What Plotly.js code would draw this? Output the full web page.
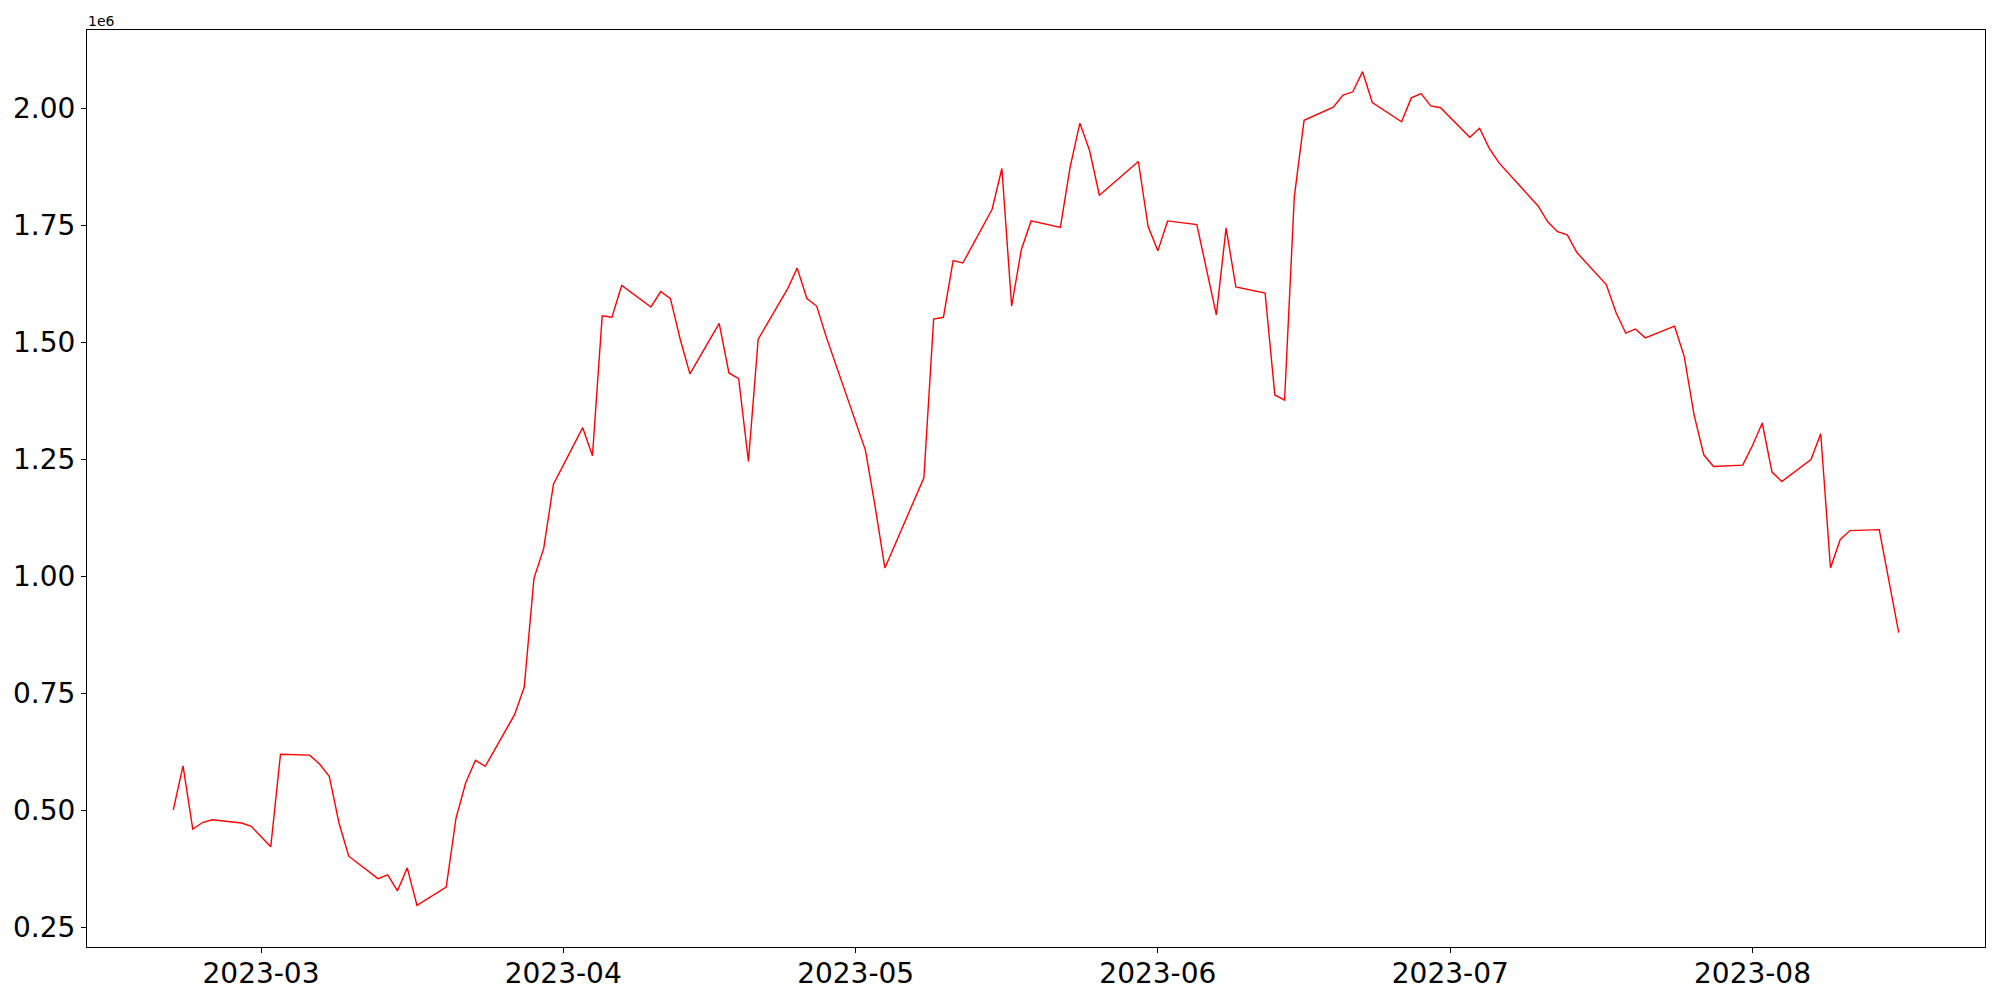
<!DOCTYPE html>
<html>
<head>
<meta charset="utf-8">
<script src="https://cdn.plot.ly/plotly-3.0.1.min.js"></script>
<style>
html, body { margin: 0; padding: 0; background: #ffffff; }
#chart { width: 2000px; height: 1000px; }
</style>
</head>
<body>
<div id="chart"></div>
<script>
const dates = [
  '2023-02-20','2023-02-21','2023-02-22','2023-02-23','2023-02-24',
  '2023-02-27','2023-02-28','2023-03-02','2023-03-03',
  '2023-03-06','2023-03-07','2023-03-08','2023-03-09','2023-03-10',
  '2023-03-13','2023-03-14','2023-03-15','2023-03-16','2023-03-17',
  '2023-03-20','2023-03-21','2023-03-22','2023-03-23','2023-03-24',
  '2023-03-27','2023-03-28','2023-03-29','2023-03-30','2023-03-31',
  '2023-04-03','2023-04-04','2023-04-05','2023-04-06','2023-04-07',
  '2023-04-10','2023-04-11','2023-04-12','2023-04-13','2023-04-14',
  '2023-04-17','2023-04-18','2023-04-19','2023-04-20','2023-04-21',
  '2023-04-24','2023-04-25','2023-04-26','2023-04-27','2023-04-28',
  '2023-05-02','2023-05-03','2023-05-04',
  '2023-05-08','2023-05-09','2023-05-10','2023-05-11','2023-05-12',
  '2023-05-15','2023-05-16','2023-05-17','2023-05-18','2023-05-19',
  '2023-05-22','2023-05-23','2023-05-24','2023-05-25','2023-05-26',
  '2023-05-30','2023-05-31','2023-06-01','2023-06-02',
  '2023-06-05','2023-06-07','2023-06-08','2023-06-09',
  '2023-06-12','2023-06-13','2023-06-14','2023-06-15','2023-06-16',
  '2023-06-19','2023-06-20','2023-06-21','2023-06-22','2023-06-23',
  '2023-06-26','2023-06-27','2023-06-28','2023-06-29','2023-06-30',
  '2023-07-03','2023-07-04','2023-07-05','2023-07-06',
  '2023-07-10','2023-07-11','2023-07-12','2023-07-13','2023-07-14',
  '2023-07-17','2023-07-18','2023-07-19','2023-07-20','2023-07-21',
  '2023-07-24','2023-07-25','2023-07-26','2023-07-27','2023-07-28',
  '2023-07-31','2023-08-01','2023-08-02','2023-08-03','2023-08-04',
  '2023-08-07','2023-08-08','2023-08-09','2023-08-10','2023-08-11',
  '2023-08-14','2023-08-16'
];

const values = [
  501000, 595000, 460000, 474000, 480000,
  473000, 466000, 422000, 620000,
  618000, 599000, 573000, 473000, 402000,
  354000, 362000, 328000, 377000, 297000,
  336000, 483000, 559000, 607000, 594000,
  704000, 763000, 996000, 1060000, 1197000,
  1318000, 1258000, 1557000, 1554000, 1622000,
  1576000, 1609000, 1594000, 1507000, 1433000,
  1541000, 1435000, 1423000, 1246000, 1507000,
  1614000, 1659000, 1594000, 1578000, 1511000,
  1270000, 1149000, 1018000,
  1211000, 1550000, 1554000, 1675000, 1670000,
  1785000, 1872000, 1578000, 1699000, 1760000,
  1746000, 1875000, 1969000, 1910000, 1815000,
  1887000, 1748000, 1696000, 1760000,
  1752000, 1559000, 1745000, 1619000,
  1606000, 1388000, 1377000, 1812000, 1975000,
  2003000, 2029000, 2036000, 2079000, 2013000,
  1972000, 2023000, 2032000, 2006000, 2002000,
  1939000, 1958000, 1915000, 1884000,
  1792000, 1758000, 1737000, 1730000, 1692000,
  1624000, 1564000, 1520000, 1529000, 1510000,
  1535000, 1470000, 1346000, 1260000, 1235000,
  1238000, 1280000, 1328000, 1223000, 1203000,
  1250000, 1305000, 1018000, 1079000, 1098000,
  1100000, 880000
];

const xTickVals = ['2023-03-01','2023-04-01','2023-05-01','2023-06-01','2023-07-01','2023-08-01'];
const xTickText = ['2023-03','2023-04','2023-05','2023-06','2023-07','2023-08'];
const yTickVals = [250000, 500000, 750000, 1000000, 1250000, 1500000, 1750000, 2000000];
const yTickText = ['0.25','0.50','0.75','1.00','1.25','1.50','1.75','2.00'];
const offsetText = '1e6';

// matplotlib-like 5% margins computed from the data
const tms = dates.map(d => new Date(d + 'T00:00:00Z').getTime());
const tMin = Math.min(...tms), tMax = Math.max(...tms);
const tPad = (tMax - tMin) * 0.05;
const fmt = t => new Date(t).toISOString().replace('T', ' ').slice(0, 19);
const vMin = Math.min(...values), vMax = Math.max(...values);
const vPad = (vMax - vMin) * 0.05;

const font = '"DejaVu Sans", "Liberation Sans", sans-serif';

const trace = {
  x: dates,
  y: values,
  type: 'scatter',
  mode: 'lines',
  line: { color: '#ff0000', width: 1.4 },
  hoverinfo: 'x+y'
};

const axisCommon = {
  showgrid: false,
  zeroline: false,
  showline: true,
  mirror: true,
  linecolor: '#000000',
  linewidth: 1,
  ticks: 'outside',
  ticklen: 5,
  tickwidth: 1,
  tickcolor: '#000000',
  tickfont: { family: font, size: 28, color: '#000000' }
};

const layout = {
  width: 2000,
  height: 1000,
  margin: { l: 87, r: 15, t: 30, b: 53, pad: 0 },
  paper_bgcolor: '#ffffff',
  plot_bgcolor: '#ffffff',
  showlegend: false,
  font: { family: font, color: '#000000' },
  xaxis: Object.assign({}, axisCommon, {
    type: 'date',
    range: [fmt(tMin - tPad), fmt(tMax + tPad)],
    tickmode: 'array',
    tickvals: xTickVals,
    ticktext: xTickText,
    ticklabelstandoff: -4
  }),
  yaxis: Object.assign({}, axisCommon, {
    range: [vMin - vPad, vMax + vPad],
    tickmode: 'array',
    tickvals: yTickVals,
    ticktext: yTickText
  }),
  annotations: [{
    text: offsetText,
    xref: 'paper', yref: 'paper',
    x: 0, y: 1,
    xanchor: 'left', yanchor: 'bottom',
    showarrow: false,
    font: { family: font, size: 14, color: '#000000' },
    borderpad: 0
  }]
};

Plotly.newPlot('chart', [trace], layout, { displayModeBar: false, staticPlot: true });
</script>
</body>
</html>
